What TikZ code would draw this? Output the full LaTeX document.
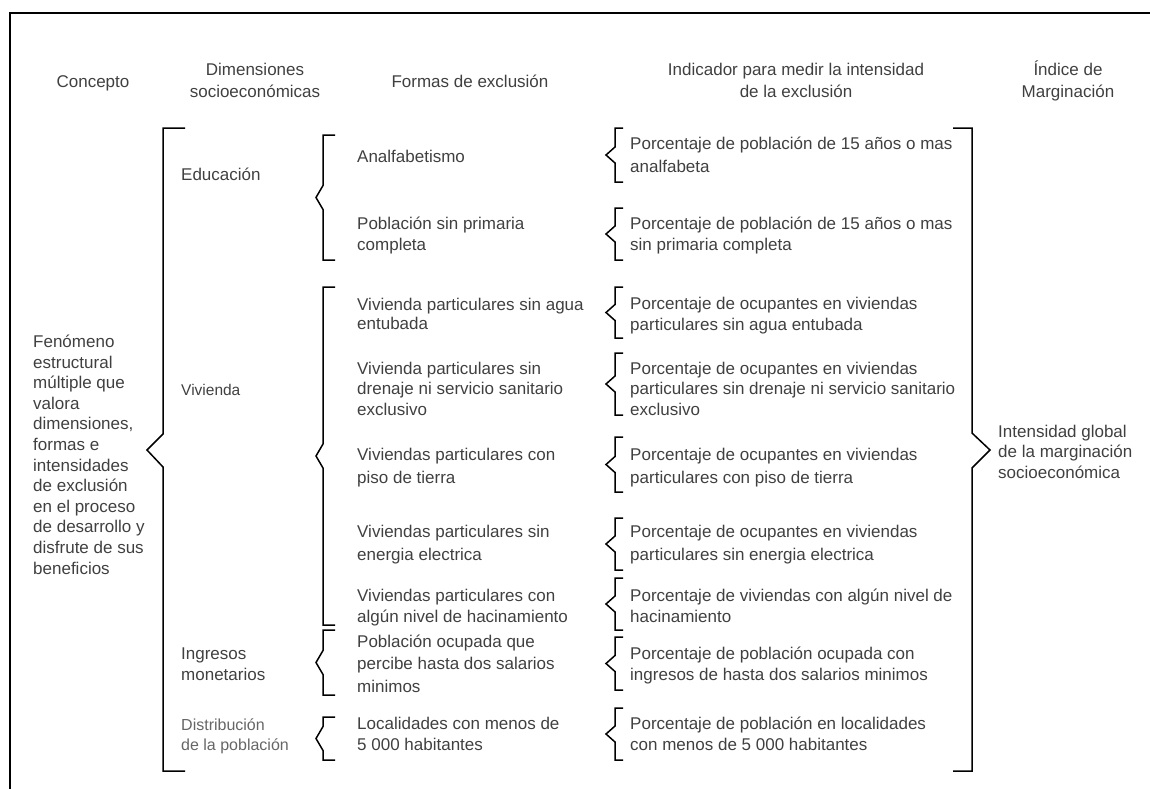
\documentclass[tikz,border=0pt]{standalone}
\usepackage{fontspec}
\setmainfont{Liberation Sans}
\usepackage{tikz}
% nodes sit on the baseline of their last line
\tikzstyle{txt} = [anchor=base west, align=left, inner sep=0pt,
    text=black!75, font=\fontsize{17}{20.5}\selectfont]
\tikzstyle{wide} = [font=\fontsize{17}{22.5}\selectfont]
\tikzstyle{head} = [anchor=base, align=center, inner sep=0pt,
    text=black!75, font=\fontsize{17}{22}\selectfont]
\tikzstyle{bracket} = [draw=black, line width=1.5pt]

% bracket with a notch: x, top, bottom, tick, depth, half notch
\newcommand{\mybrace}[6]{%
  \pgfmathsetmacro\bmid{(#2+#3)/2}
  \draw[bracket] (#1+#4,#2) -- (#1,#2) -- (#1,\bmid-#6) -- (#1-#5,\bmid)
    -- (#1,\bmid+#6) -- (#1,#3) -- (#1+#4,#3);
}

\begin{document}
\begin{tikzpicture}[x=1pt,y=-1pt]

\useasboundingbox (0,0) rectangle (1150,788);
\draw[line width=1.5pt] (10,790) -- (10,13) -- (1152,13);

% headers
\node[head] (concepto) at (93,87) {Concepto};
\node[head] (dimensiones) at (255,97) {Dimensiones\\socioeconómicas};
\node[head] (formas) at (470,87) {Formas de exclusión};
\node[head] (indicador) at (796,97) {Indicador para medir la intensidad\\de la exclusión};
\node[head] (indice) at (1068,97) {Índice de\\Marginación};

% concepto
\node[txt, font=\fontsize{17}{20.6}\selectfont] (fenomeno) at (33,574) {Fenómeno\\estructural\\múltiple que\\valora\\dimensiones,\\formas e\\intensidades\\de exclusión\\en el proceso\\de desarrollo y\\disfrute de sus\\beneficios};
\draw[bracket] (185,128) -- (163,128) -- (163,434) -- (147,450)
    -- (163,467) -- (163,771) -- (185,771);

% dimensiones
\node[txt] (educacion) at (181,180) {Educación};
\node[txt, font=\fontsize{15.5}{20}\selectfont] (vivienda) at (181,395) {Vivienda};
\node[txt] (ingresos) at (181,680) {Ingresos\\monetarios};
\node[txt, text=black!60, font=\fontsize{16}{20}\selectfont] (distribucion) at (181,750) {Distribución\\de la población};

\mybrace{323}{135}{260}{12}{7}{12}
\mybrace{323}{287}{625}{12}{7}{12}
\mybrace{323}{630}{695}{12}{7}{12}
\mybrace{323}{717}{760}{12}{7}{12}

% formas de exclusion
\node[txt] (analfabetismo) at (357,162) {Analfabetismo};
\node[txt] (primaria) at (357,250) {Población sin primaria\\completa};
\node[txt, font=\fontsize{17}{19}\selectfont] (agua) at (357,329) {Vivienda particulares sin agua\\entubada};
\node[txt] (drenaje) at (357,415) {Vivienda particulares sin\\drenaje ni servicio sanitario\\exclusivo};
\node[txt, font=\fontsize{17}{23}\selectfont] (piso) at (357,483) {Viviendas particulares con\\piso de tierra};
\node[txt, wide] (energia) at (357,560) {Viviendas particulares sin\\energia electrica};
\node[txt] (hacinamiento) at (357,622) {Viviendas particulares con\\algún nivel de hacinamiento};
\node[txt, wide] (ocupada) at (357,692) {Población ocupada que\\percibe hasta dos salarios\\minimos};
\node[txt] (localidades) at (357,750) {Localidades con menos de\\5 000 habitantes};

\mybrace{615}{128}{182}{8}{9}{8}
\mybrace{615}{208}{260}{8}{9}{8}
\mybrace{615}{287}{338}{8}{9}{8}
\mybrace{615}{353}{415}{8}{9}{8}
\mybrace{615}{437}{492}{8}{9}{8}
\mybrace{615}{518}{570}{8}{9}{8}
\mybrace{615}{578}{630}{8}{9}{8}
\mybrace{615}{637}{690}{8}{9}{8}
\mybrace{615}{708}{760}{8}{9}{8}

% indicadores
\node[txt, wide] (ind1) at (630,172) {Porcentaje de población de 15 años o mas\\analfabeta};
\node[txt] (ind2) at (630,250) {Porcentaje de población de 15 años o mas\\sin primaria completa};
\node[txt] (ind3) at (630,330) {Porcentaje de ocupantes en viviendas\\particulares sin agua entubada};
\node[txt] (ind4) at (630,415) {Porcentaje de ocupantes en viviendas\\particulares sin drenaje ni servicio sanitario\\exclusivo};
\node[txt, font=\fontsize{17}{23}\selectfont] (ind5) at (630,483) {Porcentaje de ocupantes en viviendas\\particulares con piso de tierra};
\node[txt, wide] (ind6) at (630,560) {Porcentaje de ocupantes en viviendas\\particulares sin energia electrica};
\node[txt] (ind7) at (630,622) {Porcentaje de viviendas con algún nivel de\\hacinamiento};
\node[txt] (ind8) at (630,680) {Porcentaje de población ocupada con\\ingresos de hasta dos salarios minimos};
\node[txt] (ind9) at (630,750) {Porcentaje de población en localidades\\con menos de 5 000 habitantes};

% indice
\draw[bracket] (953,128) -- (972,128) -- (972,433) -- (990,450)
    -- (972,468) -- (972,771) -- (953,771);
\node[txt] (intensidad) at (998,478) {Intensidad global\\de la marginación\\socioeconómica};

\end{tikzpicture}
\end{document}
